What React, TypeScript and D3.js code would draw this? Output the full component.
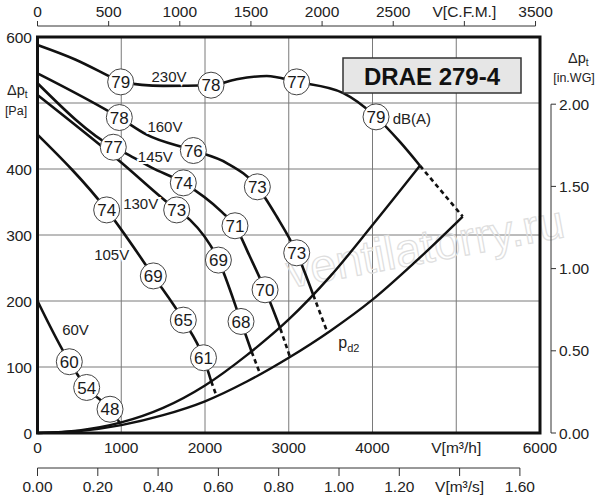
import * as d3 from "d3";

// axis ticks
const m3hTicks = [0, 1000, 2000, 3000, 4000, 5000, 6000];
const paTicks = [0, 100, 200, 300, 400, 500, 600];
const cfmTicks = [0, 500, 1000, 1500, 2000, 2500, 3000, 3500];
const m3sTicks = [0, 0.2, 0.4, 0.6, 0.8, 1.0, 1.2, 1.4, 1.6];
const inwgTicks = [0, 0.5, 1.0, 1.5, 2.0];

const M3H_PER_CFM = 1.699;
const PA_PER_INWG = 249.09;

// fan curves [m3/h, Pa]
const curve230 = [[0, 588], [450, 566], [866, 540], [993, 532], [1500, 526], [2072, 527], [2378, 536], [2737, 541], [3094, 532], [3651, 515], [4042, 479], [4328, 441], [4567, 405]];
const curve160 = [[0, 545], [977, 478], [1303, 452], [1861, 428], [2259, 409], [2625, 373], [2856, 328], [3095, 273], [3293, 209]];
const curve145 = [[0, 530], [905, 433], [1065, 423], [1363, 402], [1741, 379], [2200, 335], [2358, 314], [2537, 267], [2717, 217], [2900, 158]];
const curve130 = [[0, 512], [961, 414], [1662, 338], [1821, 323], [2160, 262], [2430, 169], [2557, 123]];
const curve105 = [[0, 452], [826, 338], [1383, 238], [1741, 171], [1982, 114], [2075, 78]];
const curve60 = [[0, 200], [380, 108], [587, 69], [866, 36], [990, 14]];

// dashed continuation to the lower pd2 curve
const dashEnds = [[5077, 328], [3463, 152], [3015, 115], [2657, 90], [2140, 55], null];

// sound level markers [m3/h, Pa, dB(A)]
const dB230 = [[993, 532, 79], [2072, 527, 78], [3094, 532, 77], [4042, 479, 79]];
const dB160 = [[977, 478, 78], [1861, 428, 76], [2625, 373, 73], [3095, 273, 73]];
const dB145 = [[905, 433, 77], [1741, 379, 74], [2358, 314, 71], [2717, 217, 70]];
const dB130 = [[1662, 338, 73], [2160, 262, 69], [2430, 169, 68]];
const dB105 = [[826, 338, 74], [1383, 238, 69], [1741, 171, 65], [1982, 114, 61]];
const dB60 = [[380, 108, 60], [587, 69, 54], [866, 36, 48]];

const voltages = ["230V", "160V", "145V", "130V", "105V", "60V"];
const voltageLabelAt = [[1570, 532], [1522, 456], [1407, 411], [1232, 339], [886, 262], [454, 148]];

// system curves pd2
const pdUpper = [[0, 0], [500, 4], [1000, 16], [1500, 38], [2000, 72], [2500, 118], [3000, 172], [3500, 238], [4000, 315], [4567, 405]];
const pdLower = [[0, 0], [500, 3], [1000, 12], [1500, 27], [2000, 48], [2500, 78], [3000, 114], [3500, 155], [4000, 202], [4500, 258], [5077, 328]];

const curves = [curve230, curve160, curve145, curve130, curve105, curve60];
const markers = [dB230, dB160, dB145, dB130, dB105, dB60];

const font = "Liberation Sans, Arial, Helvetica, sans-serif";

function tickText(v: number, digits: number) {
  return v.toFixed(digits);
}

export default function App() {
  const width = 600;
  const height = 500;

  const x = d3.scaleLinear().domain([0, 6000]).range([37.5, 540]);
  const y = d3.scaleLinear().domain([0, 600]).range([433, 37]);
  const xCfm = d3.scaleLinear().domain([0, 3500]).range([x(0), x(3500 * M3H_PER_CFM)]);
  const xM3s = d3.scaleLinear().domain([0, 1.6]).range([x(0), x(1.6 * 3600)]);
  const yIn = d3.scaleLinear().domain([0, 2]).range([y(0), y(2 * PA_PER_INWG)]);

  const line = d3
    .line<number[]>()
    .x((d) => x(d[0]))
    .y((d) => y(d[1]))
    .curve(d3.curveMonotoneX);

  const [x0, x1] = x.range();
  const [yb, yt] = y.range();

  return (
    <svg
      width={width}
      height={height}
      style={{ position: "absolute", left: 0, top: 0, background: "#fff" }}
      fontFamily={font}
    >
      <rect width={width} height={height} fill="#fff" />

      {/* grid */}
      {m3hTicks.slice(1, -1).map((t) => (
        <line key={"gx" + t} x1={x(t)} x2={x(t)} y1={yb} y2={yt} stroke="#7a7a7a" strokeWidth={1} />
      ))}
      {paTicks.slice(1, -1).map((t) => (
        <line key={"gy" + t} x1={x0} x2={x1} y1={y(t)} y2={y(t)} stroke="#7a7a7a" strokeWidth={1} />
      ))}

      {/* watermark */}
      <text
        x={290}
        y={288}
        transform="rotate(-10.5 290 288)"
        fontSize={47}
        fill="none"
        stroke="#dedede"
        strokeWidth={1.2}
      >
        ventilatorry.ru
      </text>

      {/* pd2 curves */}
      <path d={line(pdUpper) ?? ""} fill="none" stroke="#111" strokeWidth={2.4} />
      <path d={line(pdLower) ?? ""} fill="none" stroke="#111" strokeWidth={2.4} />

      {/* fan curves */}
      {curves.map((c, i) => (
        <g key={"c" + i}>
          <path d={line(c) ?? ""} fill="none" stroke="#111" strokeWidth={2.6} />
          {dashEnds[i] && (
            <line
              x1={x(c[c.length - 1][0])}
              y1={y(c[c.length - 1][1])}
              x2={x(dashEnds[i]![0])}
              y2={y(dashEnds[i]![1])}
              stroke="#111"
              strokeWidth={2.6}
              strokeDasharray="4.5,3.5"
            />
          )}
        </g>
      ))}

      {/* voltage labels */}
      {voltages.map((v, i) => (
        <text
          key={v}
          x={x(voltageLabelAt[i][0])}
          y={y(voltageLabelAt[i][1])}
          textAnchor="middle"
          fontSize={15}
          fill="#222"
          stroke="#fff"
          strokeWidth={4}
          paintOrder="stroke"
        >
          {v}
        </text>
      ))}

      {/* sound level markers */}
      {markers.map((m, i) =>
        m.map((d, j) => (
          <g key={"m" + i + "-" + j} transform={`translate(${x(d[0])},${y(d[1])})`}>
            <circle r={13} fill="#fff" stroke="#444" strokeWidth={1} />
            <text textAnchor="middle" dy="0.36em" fontSize={17} fill="#1a1a1a">
              {d[2]}
            </text>
          </g>
        ))
      )}
      <text x={x(4241)} y={y(468)} fontSize={15} fill="#222">
        dB(A)
      </text>

      {/* pd2 label */}
      <text x={x(3592)} y={y(129)} fontSize={16} fill="#222">
        p<tspan fontSize={11} dy={4}>d2</tspan>
      </text>

      {/* title box */}
      <rect x={343} y={58} width={178} height={35} fill="#e6e6e6" stroke="#333" strokeWidth={1.5} />
      <text x={432} y={85} textAnchor="middle" fontSize={24} fontWeight="bold" fill="#111">
        DRAE 279-4
      </text>

      {/* frame */}
      <rect x={x0} y={yt} width={x1 - x0} height={yb - yt} fill="none" stroke="#111" strokeWidth={3} />

      {/* left Pa axis: the 500 label gives way to the axis title */}
      {paTicks
        .filter((t) => t !== 500)
        .map((t) => (
          <text key={"pa" + t} x={32} y={y(t) + 5.5} textAnchor="end" fontSize={15.5} fill="#222">
            {t}
          </text>
        ))}
      <text x={7} y={95} fontSize={14.5} fill="#222">
        Δp<tspan fontSize={10} dy={3}>t</tspan>
      </text>
      <text x={16} y={115} textAnchor="middle" fontSize={12.5} fill="#222">
        [Pa]
      </text>

      {/* bottom m3/h labels */}
      {m3hTicks.map((t) => (
        <text key={"h" + t} x={x(t)} y={453} textAnchor="middle" fontSize={15.5} fill="#222">
          {t === 5000 ? "V[m³/h]" : t}
        </text>
      ))}

      {/* bottom m3/s axis */}
      <line x1={xM3s(0)} x2={xM3s(1.6)} y1={468} y2={468} stroke="#333" strokeWidth={1} />
      {m3sTicks.map((t) => (
        <g key={"s" + t}>
          <line x1={xM3s(t)} x2={xM3s(t)} y1={468} y2={476} stroke="#333" strokeWidth={1} />
          <text x={xM3s(t)} y={492} textAnchor="middle" fontSize={15.5} fill="#222">
            {Math.abs(t - 1.4) < 1e-9 ? "V[m³/s]" : tickText(t, 2)}
          </text>
        </g>
      ))}

      {/* top CFM axis */}
      <line x1={xCfm(0)} x2={xCfm(3500)} y1={26} y2={26} stroke="#333" strokeWidth={1} />
      {cfmTicks.map((t) => (
        <g key={"f" + t}>
          <line x1={xCfm(t)} x2={xCfm(t)} y1={26} y2={21} stroke="#333" strokeWidth={1} />
          <text x={xCfm(t)} y={17} textAnchor="middle" fontSize={15.5} fill="#222">
            {t === 3000 ? "V[C.F.M.]" : t}
          </text>
        </g>
      ))}

      {/* right in.WG axis */}
      <line x1={551} x2={551} y1={yIn(2)} y2={yIn(0)} stroke="#333" strokeWidth={1} />
      {inwgTicks.map((t) => (
        <g key={"w" + t}>
          <line x1={551} x2={556} y1={yIn(t)} y2={yIn(t)} stroke="#333" strokeWidth={1} />
          <text x={559} y={yIn(t) + 5.5} fontSize={15.5} fill="#222">
            {tickText(t, 2)}
          </text>
        </g>
      ))}
      <text x={568} y={63} fontSize={14.5} fill="#222">
        Δp<tspan fontSize={10} dy={3}>t</tspan>
      </text>
      <text x={574} y={82} textAnchor="middle" fontSize={12.5} fill="#222">
        [in.WG]
      </text>
    </svg>
  );
}
